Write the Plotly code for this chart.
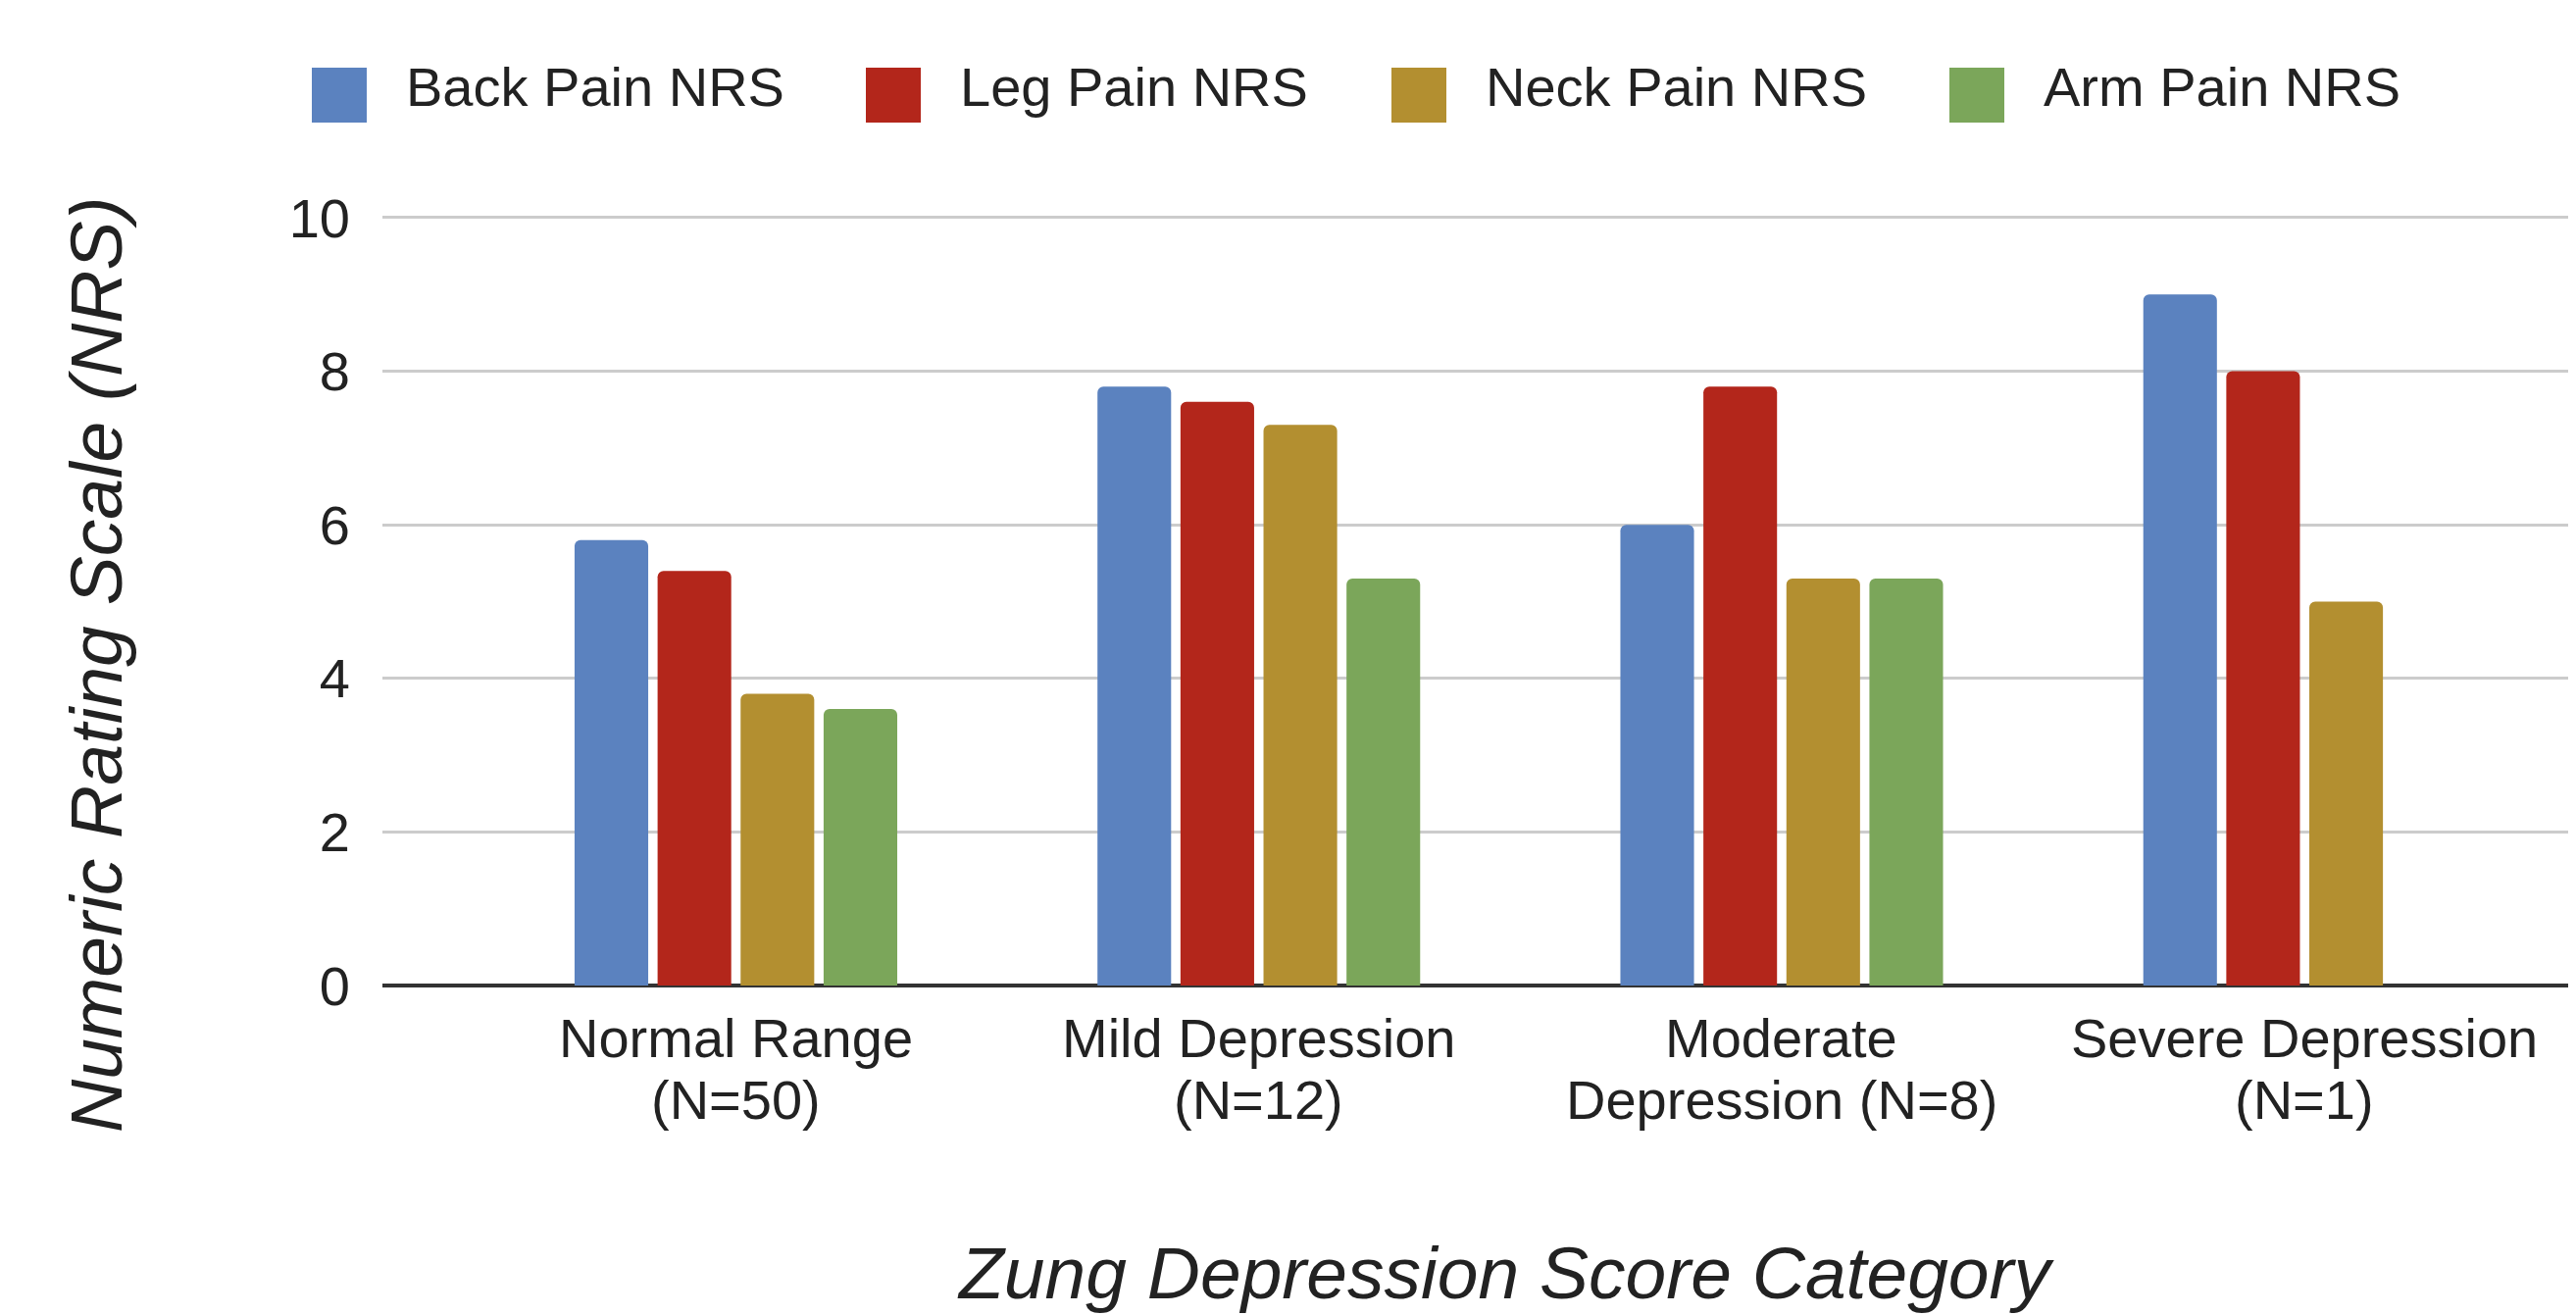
import plotly.graph_objects as go

categories = ["Normal Range<br>(N=50)", "Mild Depression<br>(N=12)",
              "Moderate<br>Depression (N=8)", "Severe Depression<br>(N=1)"]
series_names = ["Back Pain NRS", "Leg Pain NRS", "Neck Pain NRS", "Arm Pain NRS"]
back_pain = [5.8, 7.8, 6.0, 9.0]
leg_pain = [5.4, 7.6, 7.8, 8.0]
neck_pain = [3.8, 7.3, 5.3, 5.0]
arm_pain = [3.6, 5.3, 5.3, 0.0]
y_ticks = [0, 2, 4, 6, 8, 10]

colors = ["#5B82BF", "#B3261B", "#B38F30", "#7BA65A"]
series_values = [back_pain, leg_pain, neck_pain, arm_pain]

W, H = 2627, 1341
L, R, T, B = 382, 0, 210, 344
PW, PH = W - L - R, H - T - B
FONT = "Liberation Sans, Arial, sans-serif"
TXT = "#222222"


def px(x):
    return (x - L) / PW


def py(y):
    return (H - B - y) / PH


xpos = list(range(len(categories)))

fig = go.Figure()
for name, vals, col in zip(series_names, series_values, colors):
    fig.add_trace(go.Bar(x=xpos, y=vals, name=name,
                         marker=dict(color=col, line=dict(width=0)),
                         showlegend=False))

# custom legend (large swatches)
legend_swatch_x = [310, 875, 1411, 1980]
shapes = []
annotations = []
for name, col, sx in zip(series_names, colors, legend_swatch_x):
    shapes.append(dict(type="rect", xref="paper", yref="paper",
                       x0=px(sx), x1=px(sx + 56), y0=py(117), y1=py(61),
                       fillcolor=col, line=dict(width=0), layer="above"))
    annotations.append(dict(text=name, xref="paper", yref="paper",
                            x=px(sx + 94), y=py(80), xanchor="left", yanchor="middle",
                            showarrow=False, font=dict(size=56, color=TXT, family=FONT)))

# category labels (two lines each, tight line spacing)
for xi, cat in zip(xpos, categories):
    lines = cat.split("<br>")
    for k, line in enumerate(lines):
        annotations.append(dict(text=line, xref="x", yref="paper", x=xi, y=py(1050 + 63 * k),
                                xanchor="center", yanchor="middle", showarrow=False,
                                font=dict(size=56, color=TXT, family=FONT)))

annotations.append(dict(text="<i>Zung Depression Score Category</i>", xref="paper", yref="paper",
                        x=px(1528), y=py(1290), xanchor="center", yanchor="middle",
                        showarrow=False, font=dict(size=75, color=TXT, family=FONT)))
annotations.append(dict(text="<i>Numeric Rating Scale (NRS)</i>", xref="paper", yref="paper",
                        x=px(90), y=py(670), xanchor="center", yanchor="middle", textangle=-90,
                        showarrow=False, font=dict(size=75, color=TXT, family=FONT)))

fig.update_layout(
    width=W, height=H,
    margin=dict(l=L, r=R, t=T, b=B, pad=0),
    paper_bgcolor="white", plot_bgcolor="white",
    barmode="group", bargap=0.365, bargroupgap=0.113, barcornerradius=6,
    font=dict(family=FONT, size=56, color=TXT),
    shapes=shapes, annotations=annotations,
    xaxis=dict(tickvals=xpos, ticktext=["" for _ in categories],
               range=[-0.676, 3.534], showgrid=False, showline=False, ticks=""),
    yaxis=dict(range=[0, 10.05], tickvals=y_ticks, showgrid=True, gridcolor="#CCCCCC", gridwidth=3,
               zeroline=True, zerolinecolor="#333333", zerolinewidth=4, showline=False, ticks="",
               tickfont=dict(size=56, color=TXT), ticklabelstandoff=32),
)

fig.write_html("out.html")
